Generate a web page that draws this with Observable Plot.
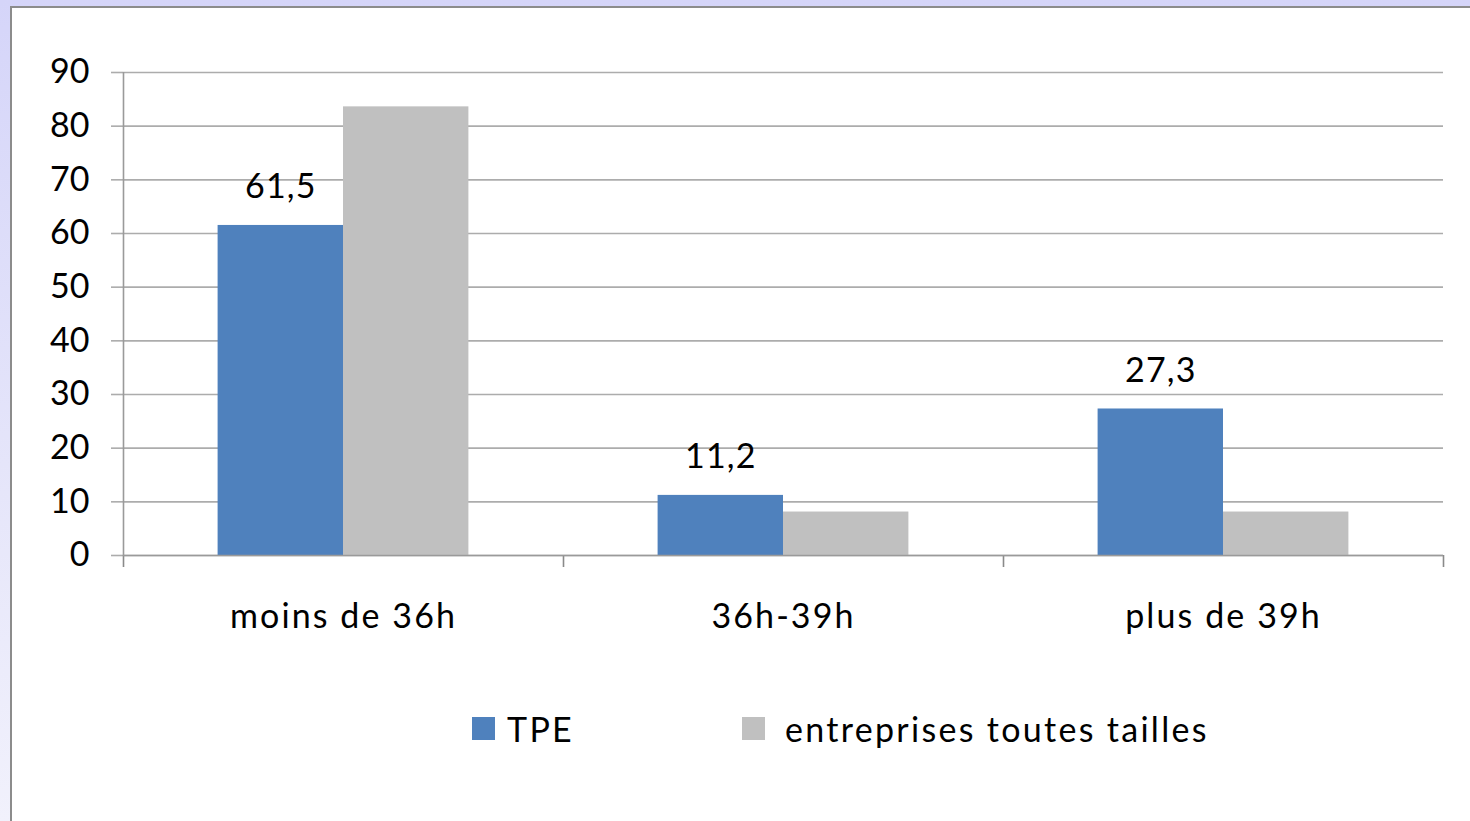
<!DOCTYPE html>
<html>
<head>
<meta charset="utf-8">
<script src="https://cdn.jsdelivr.net/npm/d3@7"></script>
<script src="https://cdn.jsdelivr.net/npm/@observablehq/plot@0.6"></script>
<style>
  html, body { margin: 0; padding: 0; }
  body {
    width: 1470px; height: 821px; position: relative; overflow: hidden;
    background: linear-gradient(to bottom, #d5d5f9 0%, #e6e6fa 60%, #f1f1fc 100%);
    font-family: "Lato", "Open Sans", sans-serif;
  }
  #panel {
    position: absolute; left: 10px; top: 6px; right: 0; bottom: 0;
    background: #ffffff;
    border-left: 2px solid #8c8c8c; border-top: 2px solid #8c8c8c;
  }
  #chart { position: absolute; left: 0; top: 0; }
  #legend { position: absolute; left: 0; top: 0; width: 1470px; height: 821px; pointer-events: none; }
  .sw { position: absolute; width: 23px; height: 23px; }
  .lt { position: absolute; font-size: 34px; line-height: 40px; color: #000; letter-spacing: 2.3px; white-space: nowrap; }
</style>
</head>
<body>
<div id="panel"></div>
<div id="chart"></div>
<div id="legend"></div>
<script>
// ---- data ----
const categories = ["moins de 36h", "36h-39h", "plus de 39h"];
const series = ["TPE", "entreprises toutes tailles"];
const tpeValues = [61.5, 11.2, 27.3];
const toutesValues = [83.6, 8.1, 8.1];
const tpeLabels = ["61,5", "11,2", "27,3"];
const yTicks = [0, 10, 20, 30, 40, 50, 60, 70, 80, 90];
const colors = ["#4f81bd", "#c0c0c0"];

// ---- layout constants (in category units) ----
const groupGap = 0.43;              // empty share of each category slot
const barW = (1 - groupGap) / 2;    // width of one bar in category units

const rows = [];
categories.forEach((c, i) => {
  rows.push({cat: c, i, s: 0, series: series[0], value: tpeValues[i], label: tpeLabels[i]});
  rows.push({cat: c, i, s: 1, series: series[1], value: toutesValues[i], label: ""});
});
const x1 = d => d.i + groupGap / 2 + d.s * barW;
const x2 = d => x1(d) + barW;
const gridColor = "#acacac";

const plot = Plot.plot({
  width: 1470,
  height: 660,
  marginLeft: 123,
  marginRight: 27,
  marginTop: 72,
  marginBottom: 105,
  style: {background: "transparent", fontFamily: "Lato, 'Open Sans', sans-serif", fontSize: "34px", color: "#000"},
  x: {type: "linear", domain: [0, categories.length]},
  y: {domain: [0, 90]},
  color: {domain: series, range: colors},
  marks: [
    Plot.gridY(yTicks, {stroke: gridColor, strokeOpacity: 1, strokeWidth: 1.6}),
    Plot.axisY({ticks: yTicks, tickSize: 12, tickPadding: 22, stroke: gridColor, strokeWidth: 1.6, fontSize: 34, fill: "#000", label: null}),
    Plot.axisX({ticks: d3.range(categories.length + 1), tickSize: 12, tickFormat: () => "", stroke: "#8a8a8a", strokeWidth: 1.6, label: null}),
    Plot.rectY(rows, {x1, x2, y1: 0, y2: "value", fill: "series"}),
    Plot.ruleX([0], {y1: 0, y2: 90, stroke: "#9a9a9a", strokeWidth: 1.6}),
    Plot.ruleY([0], {stroke: "#9a9a9a", strokeWidth: 1.6}),
    Plot.text(rows.filter(d => d.label), {
      x: d => (x1(d) + x2(d)) / 2, y: "value", text: "label",
      dy: -38, fontSize: 34, fill: "#000"
    }),
    Plot.text(categories, {
      x: (d, i) => i + 0.5, frameAnchor: "bottom", lineAnchor: "middle", text: d => d,
      dy: 62, fontSize: 34, fill: "#000"
    })
  ]
});
// letter spacing for the two text layers (value labels, category labels)
const textLayers = d3.select(plot).selectAll('g[aria-label="text"]').nodes();
if (textLayers[0]) textLayers[0].setAttribute("letter-spacing", "1.2px");
if (textLayers[1]) textLayers[1].setAttribute("letter-spacing", "2.1px");
document.getElementById("chart").appendChild(plot);

// ---- legend ----
const legend = document.getElementById("legend");
const legendPos = [{sx: 472, tx: 507}, {sx: 742, tx: 785}];
series.forEach((s, k) => {
  const sw = document.createElement("div");
  sw.className = "sw";
  sw.style.left = legendPos[k].sx + "px";
  sw.style.top = "717px";
  sw.style.background = colors[k];
  legend.appendChild(sw);
  const t = document.createElement("div");
  t.className = "lt";
  t.style.left = legendPos[k].tx + "px";
  t.style.top = "709px";
  t.textContent = s;
  legend.appendChild(t);
});
</script>
</body>
</html>
